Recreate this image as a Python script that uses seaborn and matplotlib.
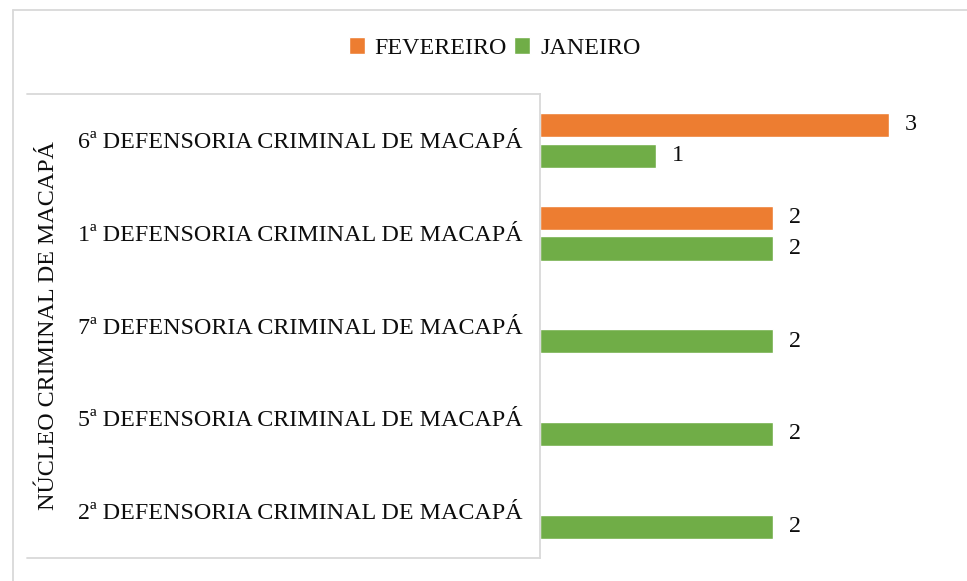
import numpy as np
import pandas as pd
import matplotlib
matplotlib.use("Agg")
import matplotlib.pyplot as plt
from matplotlib.lines import Line2D
import seaborn as sns

categories = ["6ª DEFENSORIA CRIMINAL DE MACAPÁ",
              "1ª DEFENSORIA CRIMINAL DE MACAPÁ",
              "7ª DEFENSORIA CRIMINAL DE MACAPÁ",
              "5ª DEFENSORIA CRIMINAL DE MACAPÁ",
              "2ª DEFENSORIA CRIMINAL DE MACAPÁ"]
fevereiro = [3, 2, np.nan, np.nan, np.nan]
janeiro = [1, 2, 2, 2, 2]
series_names = ["FEVEREIRO", "JANEIRO"]
group_label = "NÚCLEO CRIMINAL DE MACAPÁ"
colors = ["#ED7D31", "#70AD47"]

df = pd.DataFrame({
    "categoria": categories * 2,
    "mes": [series_names[0]] * len(categories) + [series_names[1]] * len(categories),
    "valor": fevereiro + janeiro,
}).dropna()

sns.set_theme(style="white")
plt.rcParams["font.family"] = ["Liberation Serif", "DejaVu Serif"]

W, H = 967, 581
fig = plt.figure(figsize=(W / 100, H / 100), dpi=100)
fs = 17.3
tc = "#0d0d0d"

# axes: x 540..947 px, y 94..557.5 px
ax = fig.add_axes([540 / W, 1 - 557.5 / H, (947 - 540) / W, (557.5 - 94) / H])

sns.barplot(data=df, y="categoria", x="valor", hue="mes",
            order=categories, hue_order=series_names,
            palette=colors, orient="y", width=0.667, gap=0.22,
            errorbar=None, saturation=1, ax=ax)

ax.set_xlim(0, 3.5)
ax.set_ylim(len(categories) - 0.5, -0.5)

for cont in ax.containers:
    ax.bar_label(cont, fmt="%g", padding=11.5, fontsize=fs, color=tc)

handles, labels = ax.get_legend_handles_labels()
if ax.get_legend() is not None:
    ax.get_legend().remove()
fig.legend(handles, labels, loc="center", bbox_to_anchor=(494.5 / W, 1 - 48 / H),
           ncol=2, frameon=False, fontsize=fs, labelcolor=tc, handlelength=0.68,
           handleheight=0.68, handletextpad=0.4, columnspacing=0.3,
           borderaxespad=0)

ax.set_xlabel("")
ax.set_xticks([])
ax.tick_params(axis="y", length=0, pad=12.5, labelsize=fs, labelcolor=tc)
ax.set_ylabel(group_label, fontsize=fs, color=tc)
ax.yaxis.set_label_coords((59 - 540) / (947 - 540), 0.5)

for s in ["top", "right", "bottom"]:
    ax.spines[s].set_visible(False)
ax.spines["left"].set_color("#D9D9D9")
ax.spines["left"].set_linewidth(1.3)

# category box lines and outer chart border
gray = "#D9D9D9"
for yy in (94, 557.5):
    fig.add_artist(Line2D([27 / W, 540 / W], [1 - yy / H, 1 - yy / H],
                          transform=fig.transFigure, color=gray, lw=1.3))
fig.add_artist(Line2D([13 / W, 13 / W], [0, 1 - 10 / H],
                      transform=fig.transFigure, color=gray, lw=1.3))
fig.add_artist(Line2D([13 / W, 1], [1 - 10 / H, 1 - 10 / H],
                      transform=fig.transFigure, color=gray, lw=1.3))

fig.savefig("out.png", dpi=100, facecolor="white")
